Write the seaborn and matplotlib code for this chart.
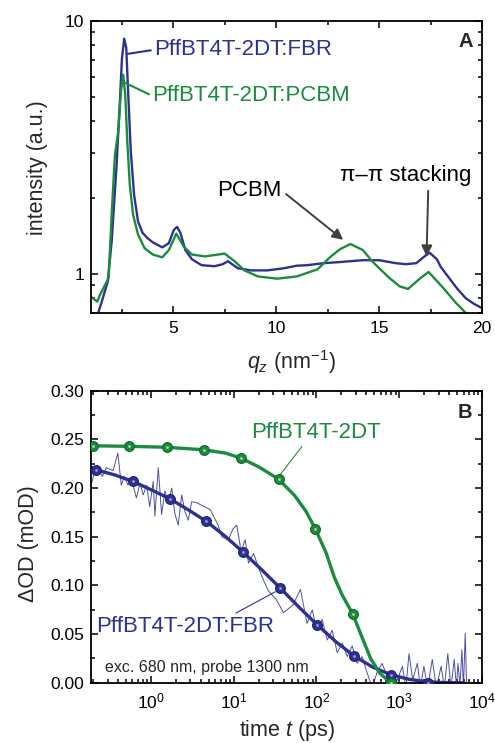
import numpy as np
import pandas as pd
import seaborn as sns
import matplotlib.pyplot as plt
from matplotlib.ticker import (MultipleLocator, LogLocator, NullFormatter,
                               FormatStrFormatter, LogFormatterMathtext)

# ---- panel A: scattering profiles ----
q_fbr = [1.3, 1.53, 1.81, 2.0, 2.24, 2.4, 2.5, 2.61, 2.71, 2.8, 2.93, 3.09, 3.28, 3.5,
         3.75, 4.0, 4.46, 4.78, 5.02, 5.18, 5.34, 5.58, 5.9, 6.37, 7.0, 7.4, 7.65, 8.13,
         8.77, 9.56, 10.36, 11.0, 11.5, 12.3, 13.0, 14.2, 15.0, 15.8, 16.3, 16.8, 17.2,
         17.45, 17.8, 18.0, 18.4, 18.8, 19.2, 19.6, 20.0]
i_fbr = [0.68, 0.78, 0.93, 1.34, 2.7, 4.8, 7.1, 8.5, 7.8, 5.25, 3.04, 2.05, 1.61, 1.45,
         1.38, 1.33, 1.27, 1.32, 1.49, 1.53, 1.45, 1.24, 1.14, 1.08, 1.07, 1.09, 1.12, 1.05,
         1.03, 1.03, 1.05, 1.075, 1.08, 1.10, 1.11, 1.13, 1.13, 1.10, 1.09, 1.10, 1.17,
         1.21, 1.14, 1.06, 0.96, 0.87, 0.80, 0.76, 0.73]

q_pcbm = [1.0, 1.3, 1.45, 1.85, 2.0, 2.16, 2.32, 2.45, 2.56, 2.66, 2.76, 2.88, 3.04, 3.28,
          3.6, 4.0, 4.46, 4.78, 5.14, 5.5, 5.9, 6.53, 7.17, 7.49, 7.97, 8.45, 9.1, 10.04,
          11.0, 12.0, 12.6, 13.1, 13.6, 14.2, 14.7, 15.5, 16.0, 16.4, 17.0, 17.4, 18.1,
          18.7, 19.2, 19.6, 20.0]
i_pcbm = [0.81, 0.775, 0.83, 0.96, 1.71, 2.95, 3.65, 5.25, 6.12, 5.1, 3.33, 2.25, 1.71, 1.43,
          1.26, 1.19, 1.16, 1.24, 1.44, 1.28, 1.19, 1.17, 1.19, 1.20, 1.12, 1.03, 0.975, 0.955,
          0.975, 1.04, 1.16, 1.25, 1.31, 1.24, 1.11, 0.96, 0.89, 0.87, 0.96, 1.015, 0.88,
          0.77, 0.70, 0.67, 0.65]

# ---- panel B: transient absorption ----
fit_t_pure = [0.19, 0.2, 0.546, 1.55, 4.39, 8, 12.3, 20, 34.8, 55, 75, 97, 130, 165, 205,
              275, 350, 450, 580, 790, 900]
fit_v_pure = [0.2435, 0.2435, 0.243, 0.242, 0.2394, 0.236, 0.2308, 0.222, 0.2093, 0.192,
              0.176, 0.158, 0.134, 0.108, 0.090, 0.0705, 0.048, 0.025, 0.010, 0.0, -0.003]
mk_t_pure = [0.2, 0.546, 1.55, 4.39, 12.3, 34.8, 97, 275, 790]
mk_v_pure = [0.2435, 0.243, 0.242, 0.2394, 0.2308, 0.2093, 0.158, 0.0705, 0.0]

fit_t_fbr = [0.19, 0.22, 0.37, 0.61, 1.0, 1.7, 2.8, 4.7, 7.8, 13.1, 21.9, 36.6, 61, 102, 170,
             283, 480, 803, 1330, 2200, 3600, 6000]
fit_v_fbr = [0.2215, 0.2188, 0.2135, 0.2069, 0.1985, 0.189, 0.178, 0.1658, 0.151, 0.134,
             0.116, 0.0973, 0.078, 0.0596, 0.0425, 0.0277, 0.0160, 0.0082, 0.0035, 0.0010,
             0.0002, 0.0]
mk_t_fbr = [0.22, 0.61, 1.7, 4.7, 13.1, 36.6, 102, 283, 803, 2200]
mk_v_fbr = [0.2188, 0.2069, 0.189, 0.1658, 0.134, 0.0973, 0.0596, 0.0277, 0.0082, 0.0003]

raw_t_fbr = [0.19, 0.21, 0.23, 0.26, 0.29, 0.35, 0.40, 0.44, 0.48, 0.53, 0.58, 0.67, 0.74,
             0.81, 0.89, 0.97, 1.07, 1.12, 1.23, 1.35, 1.48, 1.62, 1.79, 1.95, 2.14, 2.36,
             2.58, 2.83, 3.11, 3.58, 5.2, 6.5, 7.2, 8.6, 9.8, 10.9, 12.3, 13.8, 15.1, 17.4,
             20.0, 22.0, 26, 33, 40, 52, 64, 77, 89, 101, 117, 135, 155, 178, 205, 235, 270,
             310, 355, 410, 470, 545, 620, 710, 870, 1090, 1200, 1310, 1450, 1650, 1800, 1980,
             2200, 2500, 2800, 3200, 3500, 3850, 4200, 4600, 4900, 5100, 5400, 5700, 5950,
             6250, 6500]
raw_v_fbr = [0.203, 0.217, 0.221, 0.212, 0.221, 0.218, 0.236, 0.203, 0.212, 0.203, 0.21,
             0.19, 0.205, 0.193, 0.203, 0.181, 0.207, 0.171, 0.221, 0.173, 0.197, 0.186,
             0.200, 0.174, 0.162, 0.193, 0.176, 0.167, 0.186, 0.185, 0.178, 0.162, 0.150,
             0.147, 0.158, 0.162, 0.135, 0.147, 0.123, 0.133, 0.118, 0.109, 0.095, 0.085,
             0.072, 0.080, 0.096, 0.061, 0.075, 0.054, 0.065, 0.044, 0.054, 0.031, 0.041,
             0.027, 0.038, 0.020, 0.027, 0.010, -0.005, 0.012, 0.020, 0.007, -0.005, 0.017,
             -0.005, 0.030, 0.003, 0.020, -0.005, 0.017, -0.005, 0.024, -0.005, 0.017, -0.005,
             0.030, -0.005, 0.024, -0.005, 0.020, -0.002, 0.034, -0.005, 0.051, -0.005]

BLUE = '#2e3192'
GREEN = '#1b8c3e'
ARROW = '#404040'

sns.set_style('ticks')
plt.rcParams['font.family'] = ['Liberation Sans', 'DejaVu Sans']
plt.rcParams['mathtext.fontset'] = 'custom'
plt.rcParams['mathtext.rm'] = 'Liberation Sans'
plt.rcParams['mathtext.it'] = 'Liberation Sans:italic'
plt.rcParams['mathtext.bf'] = 'Liberation Sans:bold'

fig = plt.figure(figsize=(4.95, 7.43), dpi=100)
axA = fig.add_axes([0.184, 0.579, 0.79, 0.393])
axB = fig.add_axes([0.184, 0.081, 0.79, 0.393])

# panel A
sns.lineplot(x=q_fbr, y=i_fbr, ax=axA, color=BLUE, lw=1.7)
sns.lineplot(x=q_pcbm, y=i_pcbm, ax=axA, color=GREEN, lw=1.7)
axA.set_yscale('log')
axA.set_xlim(1, 20)
axA.set_ylim(0.7, 10)
axA.xaxis.set_major_locator(MultipleLocator(5))
axA.xaxis.set_minor_locator(MultipleLocator(2.5))
axA.yaxis.set_major_formatter(FormatStrFormatter('%g'))
axA.yaxis.set_minor_formatter(NullFormatter())
axA.set_xlabel(r'$q_z$ (nm$^{-1}$)', fontsize=15.5, va='center')
axA.set_ylabel('intensity (a.u.)', fontsize=15.5, va='center')
axA.xaxis.set_label_coords(0.512, -0.168)
axA.yaxis.set_label_coords(-0.137, 0.497)

axA.annotate('PffBT4T-2DT:FBR', xy=(2.77, 7.4), xytext=(4.06, 7.68), color=BLUE,
             fontsize=16, ha='left', va='center',
             arrowprops=dict(arrowstyle='-', color=BLUE, lw=1.5, shrinkA=0, shrinkB=0,
                             relpos=(0, 0.5)))
axA.annotate('PffBT4T-2DT:PCBM', xy=(2.64, 5.69), xytext=(3.97, 5.05), color=GREEN,
             fontsize=16, ha='left', va='center',
             arrowprops=dict(arrowstyle='-', color=GREEN, lw=1.5, shrinkA=0, shrinkB=0,
                             relpos=(0, 0.5)))
axA.annotate('PCBM', xy=(13.25, 1.36), xytext=(8.7, 2.13), color='black', fontsize=16,
             ha='center', va='center',
             arrowprops=dict(arrowstyle='-|>', color=ARROW, lw=1.4, mutation_scale=16,
                             shrinkA=1, shrinkB=0, relpos=(1, 0.5)))
axA.annotate('π–π stacking', xy=(17.3, 1.17), xytext=(16.3, 2.44), color='black',
             fontsize=16, ha='center', va='center',
             arrowprops=dict(arrowstyle='-|>', color=ARROW, lw=1.4, mutation_scale=16,
                             shrinkA=1, shrinkB=0, relpos=(0.67, 0)))
axA.text(0.957, 0.928, 'A', transform=axA.transAxes, fontsize=14.5, fontweight='bold',
         ha='center', va='center')

# panel B
sns.lineplot(x=raw_t_fbr, y=raw_v_fbr, ax=axB, color=BLUE, lw=0.7, alpha=0.85)
sns.lineplot(x=fit_t_fbr, y=fit_v_fbr, ax=axB, color=BLUE, lw=2.4)
sns.lineplot(x=fit_t_pure, y=fit_v_pure, ax=axB, color=GREEN, lw=2.4)
sns.scatterplot(x=mk_t_fbr, y=mk_v_fbr, ax=axB, s=50, color=BLUE, edgecolor='#1f2270',
                linewidth=0.8, zorder=4)
sns.scatterplot(x=mk_t_fbr, y=mk_v_fbr, ax=axB, s=4, color='#9a9be0', linewidth=0, zorder=5)
sns.scatterplot(x=mk_t_pure, y=mk_v_pure, ax=axB, s=50, color=GREEN, edgecolor='#12662c',
                linewidth=0.8, zorder=4)
sns.scatterplot(x=mk_t_pure, y=mk_v_pure, ax=axB, s=4, color='#9fdcaa', linewidth=0, zorder=5)
axB.set_xscale('log')
axB.set_xlim(0.19, 1e4)
axB.set_ylim(0, 0.30)
axB.xaxis.set_major_locator(LogLocator(base=10, numticks=10))
axB.xaxis.set_minor_locator(LogLocator(base=10, subs=np.arange(2, 10), numticks=20))
axB.xaxis.set_major_formatter(LogFormatterMathtext())
axB.xaxis.set_minor_formatter(NullFormatter())
axB.yaxis.set_major_locator(MultipleLocator(0.05))
axB.yaxis.set_minor_locator(MultipleLocator(0.025))
axB.yaxis.set_major_formatter(FormatStrFormatter('%.2f'))
axB.set_xlabel('time $t$ (ps)', fontsize=15.5, va='center')
axB.set_ylabel('ΔOD (mOD)', fontsize=15.5, va='center')
axB.xaxis.set_label_coords(0.50, -0.163)
axB.yaxis.set_label_coords(-0.161, 0.476)

axB.annotate('PffBT4T-2DT', xy=(35.6, 0.2127), xytext=(16.3, 0.257), color=GREEN,
             fontsize=16, ha='left', va='center',
             arrowprops=dict(arrowstyle='-', color=GREEN, lw=0.8, shrinkA=0, shrinkB=0,
                             relpos=(0.41, 0)))
axB.annotate('PffBT4T-2DT:FBR', xy=(31.8, 0.0935), xytext=(0.22, 0.0575), color=BLUE,
             fontsize=16, ha='left', va='center',
             arrowprops=dict(arrowstyle='-', color=BLUE, lw=0.8, shrinkA=0, shrinkB=0,
                             relpos=(0.75, 1)))
axB.text(0.036, 0.051, 'exc. 680 nm, probe 1300 nm', transform=axB.transAxes,
         fontsize=11.5, ha='left', va='center')
axB.text(0.957, 0.925, 'B', transform=axB.transAxes, fontsize=14.5, fontweight='bold',
         ha='center', va='center')

for ax in (axA, axB):
    for sp in ax.spines.values():
        sp.set_visible(True)
        sp.set_linewidth(1.3)
        sp.set_color('black')
    ax.tick_params(which='both', direction='in', top=True, right=True, width=1.1,
                   colors='black', labelsize=12.5)
    ax.tick_params(which='major', length=5)
    ax.tick_params(which='minor', length=3)
    ax.tick_params(axis='x', pad=6)
    ax.tick_params(axis='y', pad=5)

fig.savefig('out.png', dpi=100)
